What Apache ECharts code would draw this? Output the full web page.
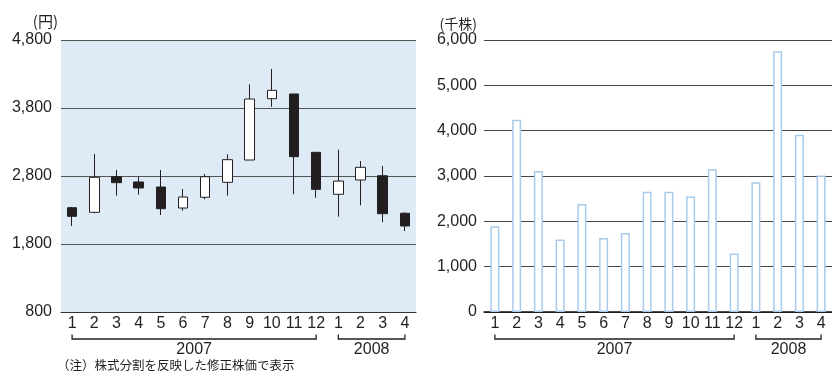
<!DOCTYPE html>
<html>
<head>
<meta charset="utf-8">
<style>
  html, body { margin: 0; padding: 0; background: #fff; }
  #chart { width: 832px; height: 374px; }
</style>
<script src="https://cdn.jsdelivr.net/npm/echarts@6/dist/echarts.min.js"></script>
</head>
<body>
<div id="chart"></div>
<script>
// Month categories (2007/1 .. 2008/4)
const months = ['1','2','3','4','5','6','7','8','9','10','11','12','1','2','3','4'];
// Year brackets: [first month index, last month index, label]
const yearGroups = [[0, 11, '2007'], [12, 15, '2008']];

// Monthly share price (円)
const priceOpen  = [2334, 2266, 2790, 2712, 2638, 2329, 2487, 2707, 3035, 3937, 4006, 3148, 2531, 2741, 2804, 2252];
const priceClose = [2207, 2781, 2702, 2624, 2319, 2491, 2790, 3040, 3932, 4060, 3084, 2604, 2726, 2928, 2246, 2065];
const priceLow   = [2065, 2252, 2511, 2525, 2226, 2290, 2457, 2511, 3035, 3819, 2531, 2481, 2202, 2369, 2119, 1991];
const priceHigh  = [2345, 3124, 2888, 2790, 2888, 2609, 2829, 3119, 4148, 4374, 4006, 3148, 3187, 3021, 2947, 2266];

// Monthly trading volume (千株)
const volume = [1890, 4240, 3110, 1600, 2380, 1630, 1740, 2650, 2650, 2550, 3150, 1290, 2860, 5750, 3910, 3010];

// Axis ticks
const priceTicks  = [800, 1800, 2800, 3800, 4800];
const volumeTicks = [0, 1000, 2000, 3000, 4000, 5000, 6000];

const INK = '#231f20';
const NUM_FONT = '"Liberation Sans", Arial, sans-serif';
const CJK_FONT = '"Noto Sans CJK JP", "Noto Sans", sans-serif';

const candleData = months.map((m, i) => [priceOpen[i], priceClose[i], priceLow[i], priceHigh[i]]);

// Bracket under the month labels with the year centred below it
function yearBracket(params, api) {
  const x1 = api.coord([api.value(0), 0])[0];
  const x2 = api.coord([api.value(1), 0])[0];
  const base = params.coordSys.y + params.coordSys.height;
  const label = yearGroups[params.dataIndex][2];
  return {
    type: 'group',
    children: [
      {
        type: 'polyline',
        shape: { points: [[x1, base + 22.5], [x1, base + 27], [x2, base + 27], [x2, base + 22.5]] },
        style: { stroke: INK, lineWidth: 1.3, fill: null }
      },
      {
        type: 'text',
        style: {
          text: label, x: (x1 + x2) / 2, y: base + 38,
          align: 'center', verticalAlign: 'middle',
          textAlign: 'center', textVerticalAlign: 'middle',
          font: '16px ' + NUM_FONT, fill: INK
        }
      }
    ]
  };
}

const fmt = v => v.toLocaleString('en-US');

const chart = echarts.init(document.getElementById('chart'), null, { renderer: 'canvas' });

const xAxisBase = {
  type: 'category',
  data: months,
  boundaryGap: true,
  axisTick: { show: false },
  axisLabel: { color: INK, fontSize: 16, fontFamily: NUM_FONT, margin: 4, interval: 0 },
};

chart.setOption({
  animation: false,
  grid: [
    { left: 61, top: 40, width: 355, height: 272, show: true, backgroundColor: '#deebf7', borderWidth: 0 },
    { left: 484, top: 40, width: 355.5, height: 272 }
  ],
  xAxis: [
    Object.assign({}, xAxisBase, { gridIndex: 0, axisLine: { lineStyle: { color: '#333', width: 1.2 } } }),
    Object.assign({}, xAxisBase, { gridIndex: 1, axisLine: { lineStyle: { color: '#111', width: 1.5 } } })
  ],
  yAxis: [
    {
      type: 'value', gridIndex: 0,
      min: priceTicks[0], max: priceTicks[priceTicks.length - 1],
      interval: priceTicks[1] - priceTicks[0],
      name: '(円)', nameGap: 11,
      nameTextStyle: { color: INK, fontSize: 15, fontFamily: CJK_FONT, align: 'right', padding: [0, 3, 0, 0] },
      axisLine: { show: false }, axisTick: { show: false },
      axisLabel: { color: INK, fontSize: 16, fontFamily: NUM_FONT, margin: 9, formatter: fmt },
      splitLine: { lineStyle: { color: '#555', width: 1 } }
    },
    {
      type: 'value', gridIndex: 1,
      min: volumeTicks[0], max: volumeTicks[volumeTicks.length - 1],
      interval: volumeTicks[1] - volumeTicks[0],
      name: '(千株)', nameGap: 9,
      nameTextStyle: { color: INK, fontSize: 14, fontFamily: CJK_FONT, align: 'right', padding: [0, 7, 0, 0] },
      axisLine: { show: false }, axisTick: { show: false },
      axisLabel: { color: INK, fontSize: 16, fontFamily: NUM_FONT, margin: 7, formatter: fmt },
      splitLine: { lineStyle: { color: '#444', width: 1 } }
    }
  ],
  series: [
    {
      type: 'candlestick', xAxisIndex: 0, yAxisIndex: 0,
      data: candleData,
      barWidth: 10,
      itemStyle: {
        color: '#ffffff', borderColor: INK,
        color0: INK, borderColor0: INK,
        borderWidth: 1
      }
    },
    {
      type: 'bar', xAxisIndex: 1, yAxisIndex: 1,
      data: volume,
      barWidth: 9,
      itemStyle: { color: '#ffffff', borderColor: '#a9cbeb', borderWidth: 1.5 }
    },
    {
      type: 'custom', xAxisIndex: 0, yAxisIndex: 0, clip: false, silent: true,
      data: yearGroups.map(g => [g[0], g[1]]),
      encode: { x: [0, 1] },
      renderItem: yearBracket
    },
    {
      type: 'custom', xAxisIndex: 1, yAxisIndex: 1, clip: false, silent: true,
      data: yearGroups.map(g => [g[0], g[1]]),
      encode: { x: [0, 1] },
      renderItem: yearBracket
    }
  ],
  graphic: [
    {
      type: 'text', left: 57, top: 359,
      style: { text: '（注）株式分割を反映した修正株価で表示', font: '12.5px ' + CJK_FONT, fill: INK }
    }
  ]
});
</script>
</body>
</html>
